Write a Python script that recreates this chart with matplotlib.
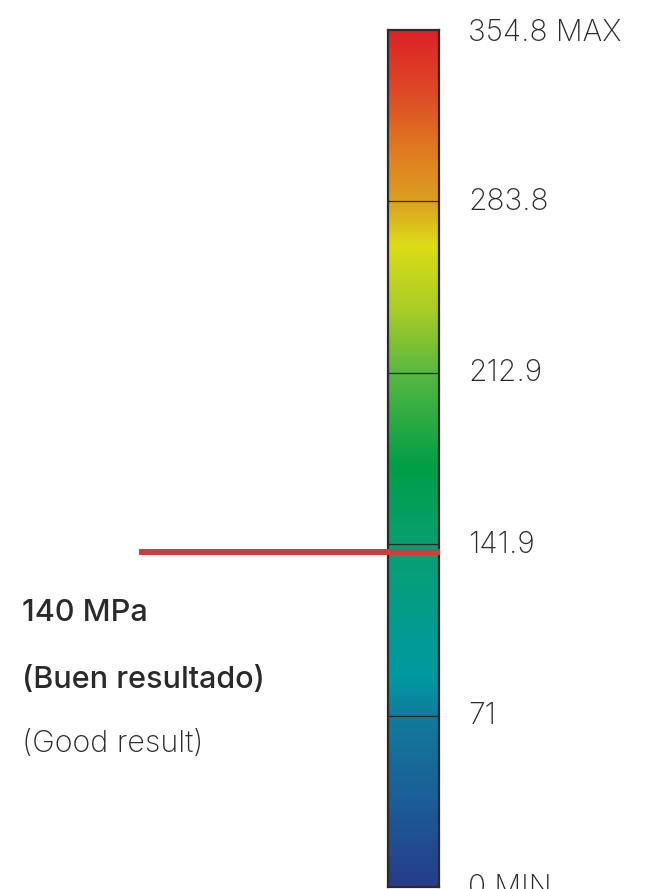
import numpy as np
import matplotlib
matplotlib.use("Agg")
import matplotlib.pyplot as plt
from matplotlib.colors import LinearSegmentedColormap
from matplotlib.transforms import blended_transform_factory, offset_copy

# Data
vmin, vmax = 0.0, 354.8
tick_values = [0, 71, 141.9, 212.9, 283.8, 354.8]
tick_labels = ["0 MIN", "71", "141.9", "212.9", "283.8", "354.8 MAX"]
inner_lines = [71, 141.9, 212.9, 283.8]
marker_value = 138.5
annot_lines = ["140 MPa", "(Buen resultado)", "(Good result)"]

# Color stops (value, color)
stop_values = [0, 36, 71, 87, 142, 174, 213, 239, 266, 284, 309, 326, 354.8]
stop_colors = ["#283c8c", "#1a5e98", "#127c9c", "#0099a3", "#08a070", "#009e48",
               "#58b840", "#a8cc28", "#dcdc18", "#dca020", "#df7520", "#dc5025", "#dc2228"]

plt.rcParams['font.family'] = ['Inter', 'DejaVu Sans']

W, H = 653, 889
fig = plt.figure(figsize=(W / 100, H / 100), dpi=100)

left_px, right_px, top_px, bot_px = 388, 439, 30, 887
ax = fig.add_axes([left_px / W, (H - bot_px) / H, (right_px - left_px) / W, (bot_px - top_px) / H])

cmap = LinearSegmentedColormap.from_list(
    "stress", [((v - vmin) / (vmax - vmin), c) for v, c in zip(stop_values, stop_colors)])
grad = np.linspace(vmin, vmax, 512).reshape(-1, 1)
ax.imshow(grad, cmap=cmap, aspect='auto', origin='lower',
          extent=[0, 1, vmin, vmax], vmin=vmin, vmax=vmax)
ax.set_xlim(0, 1)
ax.set_ylim(vmin, vmax)
ax.set_xticks([])
ax.set_yticks([])
for s in ax.spines.values():
    s.set_color("#2a2a2a")
    s.set_linewidth(1.6)

for v in inner_lines:
    ax.axhline(v, color="#1e2a22", lw=0.9)

trans = blended_transform_factory(ax.transAxes, ax.transData)
trans_up = offset_copy(trans, fig=fig, x=0, y=2.5, units='dots')

# labels
for v, lab in zip(tick_values, tick_labels):
    t = trans if v == vmax else trans_up
    ax.text((468 - left_px) / (right_px - left_px), v, lab, transform=t,
            ha='left', va='center_baseline', fontsize=21.5, fontweight='light',
            color='#2a2a2a', clip_on=False)

# red marker line
ax.plot([(139 - left_px) / (right_px - left_px), (440 - left_px) / (right_px - left_px)],
        [marker_value, marker_value], transform=trans, color="#c94040",
        lw=4.3, solid_capstyle='butt', clip_on=False, zorder=5)

# annotation texts
ys = [610, 677, 741]
weights = ['medium', 'medium', 'light']
for t, y, w in zip(annot_lines, ys, weights):
    fig.text(22 / W, 1 - y / H, t, ha='left', va='center_baseline', fontsize=22,
             fontweight=w, color='#2a2a2a')

fig.savefig("out.png", dpi=100)
